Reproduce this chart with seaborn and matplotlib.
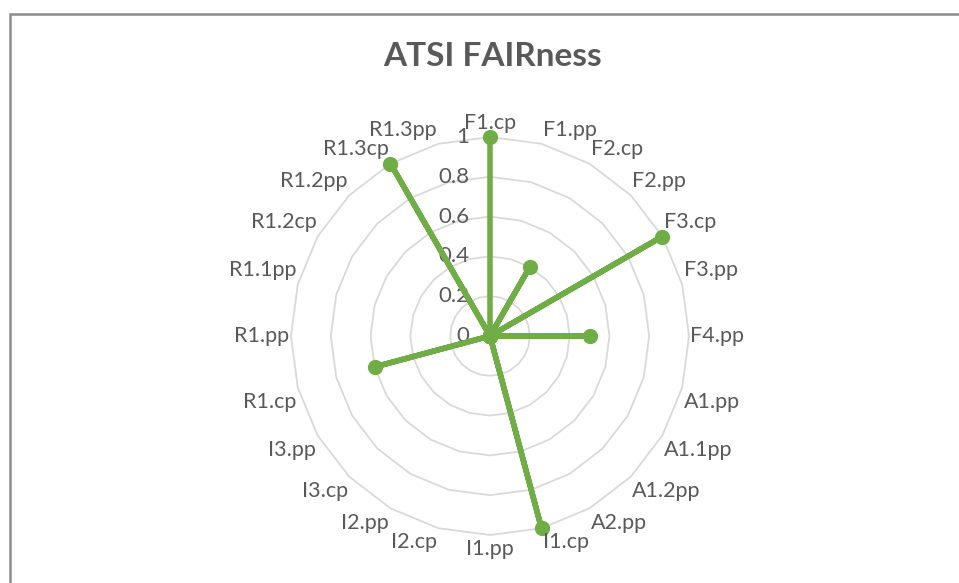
import numpy as np
import pandas as pd
import matplotlib
matplotlib.use("Agg")
import matplotlib.pyplot as plt
import seaborn as sns
from matplotlib.patches import Rectangle

categories = ["F1.cp", "F1.pp", "F2.cp", "F2.pp", "F3.cp", "F3.pp", "F4.pp",
              "A1.pp", "A1.1pp", "A1.2pp", "A2.pp", "I1.cp", "I1.pp", "I2.cp",
              "I2.pp", "I3.cp", "I3.pp", "R1.cp", "R1.pp", "R1.1pp", "R1.2cp",
              "R1.2pp", "R1.3cp", "R1.3pp"]
values = [1, 0, 0.4, 0, 1, 0, 0.5,
          0, 0, 0, 0, 1, 0, 0,
          0, 0, 0, 0.6, 0, 0, 0,
          0, 1, 0]
radial_ticks = [0, 0.2, 0.4, 0.6, 0.8, 1]
radial_labels = ["0", "0.2", "0.4", "0.6", "0.8", "1"]
title = "ATSI FAIRness"

sns.set_style("white")
plt.rcParams["font.family"] = ["Lato", "DejaVu Sans"]

W, H = 959, 583
fig = plt.figure(figsize=(W / 100, H / 100), dpi=100)
cx, cy, R = 490, 336, 199
ax = fig.add_axes([(cx - R) / W, (H - cy - R) / H, 2 * R / W, 2 * R / H], projection="polar")
ax.set_theta_zero_location("N")
ax.set_theta_direction(-1)

n = len(categories)
theta = np.arange(n) * 2 * np.pi / n

grid_color = "#D9D9D9"
text_color = "#595959"
green = "#70AD47"

# polygon gridlines
tt = np.append(theta, theta[0])
for r in radial_ticks[1:]:
    ax.plot(tt, np.full_like(tt, r), color=grid_color, lw=1.3, zorder=1)

df = pd.DataFrame({"theta": np.append(theta, theta[0]),
                   "value": values + values[:1]})
sns.lineplot(data=df, x="theta", y="value", sort=False, ax=ax, color=green,
             lw=4.0, marker="o", markersize=11, markeredgewidth=0, zorder=3)
for ln in ax.lines:
    ln.set_clip_on(False)

ax.set_ylim(0, 1)
ax.set_xticks([])
ax.set_yticks([])
ax.grid(False)
ax.spines["polar"].set_visible(False)
ax.set_xlabel("")
ax.set_ylabel("")
ax.patch.set_alpha(0)

# radial tick labels
for r, lab in zip(radial_ticks, radial_labels):
    ax.annotate(lab, xy=(0, r), xytext=(-15, 0), textcoords="offset points",
                ha="right", va="center", fontsize=16, color=text_color, zorder=2)

# category labels
for t, lab in zip(theta, categories):
    s, c = np.sin(t), np.cos(t)
    ha = "center" if abs(s) < 0.01 else ("left" if s > 0 else "right")
    va = "center" if abs(c) < 0.01 else ("bottom" if c > 0 else "top")
    dx = 1 * np.sign(s) if abs(s) >= 0.01 else 0
    dy = 3 * np.sign(c) if abs(c) >= 0.01 else 0
    ax.annotate(lab, xy=(t, 1), xytext=(dx, dy), textcoords="offset points",
                ha=ha, va=va, fontsize=15.5, color=text_color, zorder=4,
                annotation_clip=False)

fig.text(493 / W, 1 - 57 / H, title, ha="center", va="center", fontsize=24,
         fontweight="bold", color=text_color)

fig.add_artist(Rectangle((10 / W, -0.1), 1.2, 1 - 14 / H + 0.1,
                         transform=fig.transFigure, fill=False,
                         edgecolor="#8C8C8C", lw=1.8))

fig.savefig("out.png", dpi=100)
